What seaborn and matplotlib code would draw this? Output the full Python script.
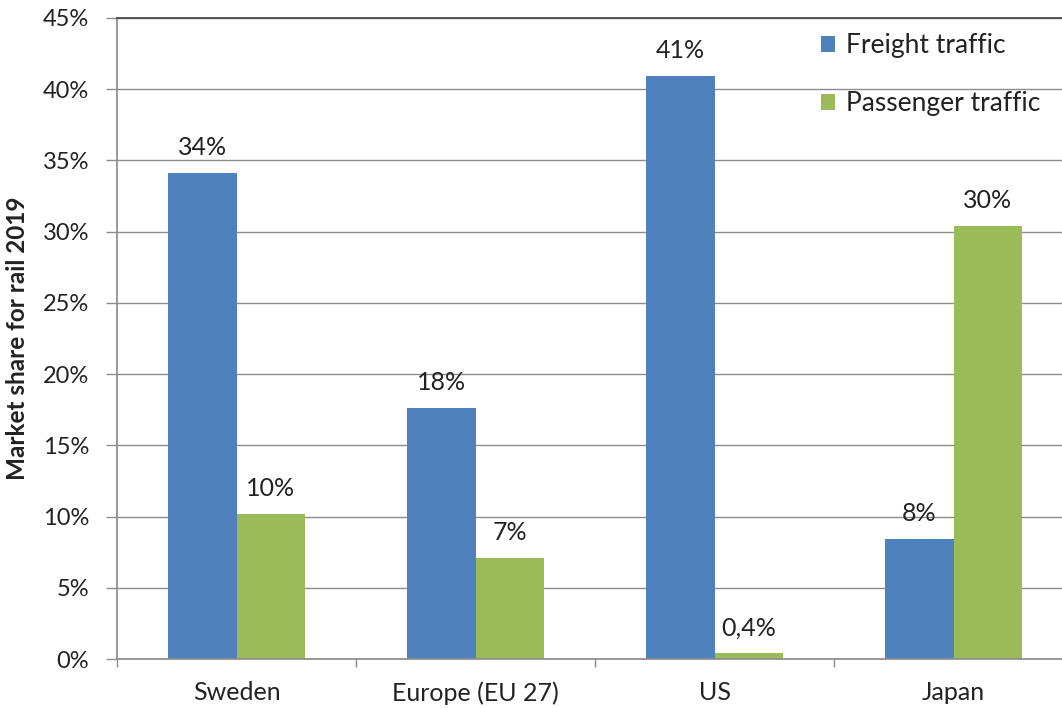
import matplotlib
matplotlib.use("Agg")
import matplotlib.pyplot as plt
from matplotlib.ticker import FixedLocator, PercentFormatter
import seaborn as sns
import pandas as pd

# Rail market share 2019, in percent
regions = ["Sweden", "Europe (EU 27)", "US", "Japan"]
freight = [34.1, 17.6, 40.9, 8.4]
passenger = [10.2, 7.1, 0.4, 30.4]
series_names = ["Freight traffic", "Passenger traffic"]
colors = ["#4F81BD", "#9BBB59"]
y_ticks = [0, 5, 10, 15, 20, 25, 30, 35, 40, 45]

df = pd.DataFrame({
    "region": regions * 2,
    "share": freight + passenger,
    "traffic": [series_names[0]] * len(regions) + [series_names[1]] * len(regions),
})

sns.set_theme(style="white")
plt.rcParams["font.family"] = ["Lato", "DejaVu Sans"]

text_color = "#222222"
grid_color = "#8c8c8c"

fig = plt.figure(figsize=(10.62, 7.08), dpi=100)
# plot area runs slightly past the right edge of the figure
ax = fig.add_axes([0.1102, 0.0692, 0.9002, 0.9054])

sns.barplot(data=df, x="region", y="share", hue="traffic", order=regions,
            hue_order=series_names, palette=colors, width=0.57, gap=0,
            saturation=1, linewidth=0, ax=ax, errorbar=None)


def fmt(v):
    if v < 1:
        return f"{v:.1f}".replace(".", ",") + "%"
    return f"{round(v)}%"


for cont in ax.containers:
    ax.bar_label(cont, labels=[fmt(b.get_height()) for b in cont],
                 padding=10, fontsize=18, color=text_color)

ax.set_ylim(0, 45)
ax.set_xlim(-0.5, 3.5)
ax.yaxis.set_major_locator(FixedLocator(y_ticks))
ax.yaxis.set_major_formatter(PercentFormatter(decimals=0))
ax.grid(axis="y", color=grid_color, linewidth=1.0)
ax.set_axisbelow(True)

# category separators below the axis
ax.xaxis.set_minor_locator(FixedLocator([-0.5, 0.5, 1.5, 2.5, 3.5]))
ax.tick_params(axis="x", which="major", length=0, pad=16, labelsize=18,
               labelcolor=text_color)
ax.tick_params(axis="x", which="minor", length=6, width=1, color=grid_color,
               bottom=True)
ax.tick_params(axis="y", which="major", length=8, width=1, color=grid_color,
               left=True, pad=12, labelsize=17, labelcolor=text_color)

ax.spines["right"].set_visible(False)
ax.spines["left"].set_color(grid_color)
ax.spines["bottom"].set_color(grid_color)
ax.spines["top"].set_color("#404040")
ax.spines["top"].set_linewidth(1.2)

ax.set_xlabel("")
ax.set_ylabel("Market share for rail 2019", fontsize=17.5, fontweight="bold",
              color=text_color, labelpad=10)

leg = ax.legend(loc="upper left", bbox_to_anchor=(0.7115, 1.013), frameon=False,
                fontsize=19, handlelength=0.55, handleheight=0.55,
                handletextpad=0.4, labelspacing=1.25, title=None)
for t in leg.get_texts():
    t.set_color(text_color)

fig.savefig("out.png", dpi=100)
